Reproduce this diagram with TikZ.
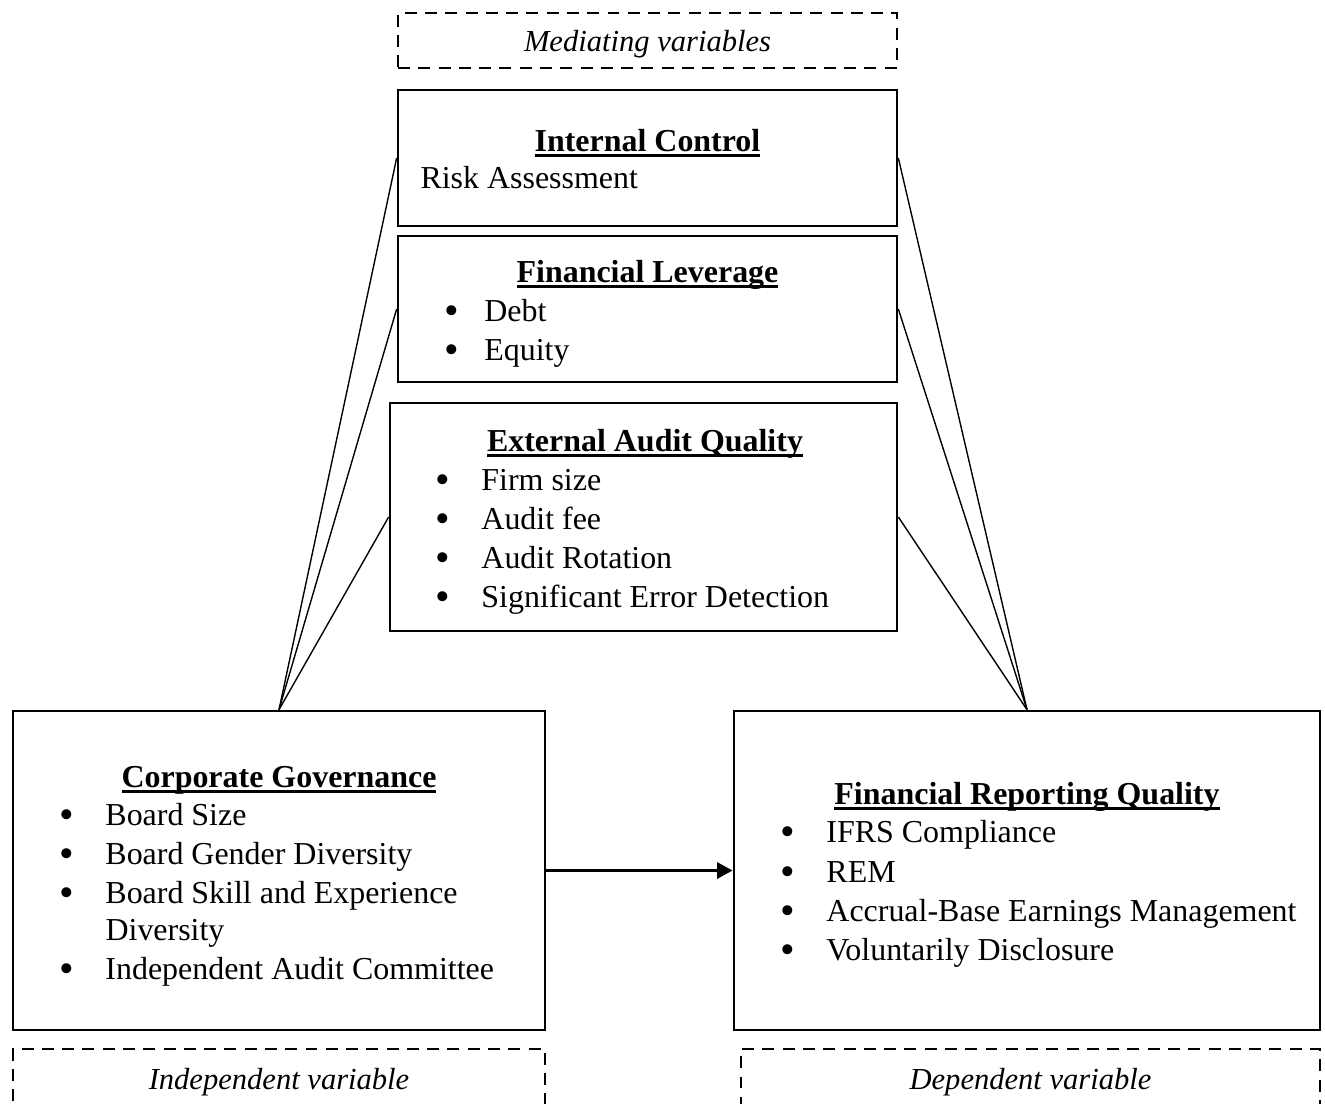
\documentclass[tikz,border=0pt]{standalone}
\usepackage{fontspec}
\setmainfont{Liberation Serif}
\usetikzlibrary{arrows.meta}
\newcommand{\blt}{\makebox[15.8pt][l]{\hspace{-0.6pt}\raisebox{-1.4pt}{\fontsize{15}{15}\selectfont\textbullet}}}
\newcommand{\hd}[1]{\setbox0\hbox{\textbf{#1}}\rlap{\rule[-2pt]{\wd0}{0.9pt}}\box0}

\begin{document}
\begin{tikzpicture}[x=0.36pt,y=-0.36pt,
	box/.style={draw,line width=1pt,inner sep=0pt},
	dbox/.style={draw,line width=0.9pt,dash pattern=on 4.3pt off 3pt,inner sep=0pt},
	ttl/.style={anchor=base,inner sep=0pt,font=\fontsize{11.5}{14}\selectfont},
	itm/.style={anchor=base west,inner sep=0pt,font=\fontsize{11.5}{14}\selectfont},
	lbl/.style={anchor=base,inner sep=0pt,font=\fontsize{11}{14}\selectfont\itshape},
	link/.style={line width=0.5pt}]
		\useasboundingbox (0,0) rectangle (1325,1103);
		% boxes
		\node[dbox,minimum width=179.6pt,minimum height=19.8pt] (med) at (647.5,40.5) {};
		\node[box,minimum width=179.6pt,minimum height=49pt] (ic) at (647.5,158) {};
		\node[box,minimum width=179.6pt,minimum height=52.6pt] (fl) at (647.5,309) {};
		\node[box,minimum width=182.5pt,minimum height=82.1pt] (eaq) at (643.5,517) {};
		\node[box,minimum width=191.5pt,minimum height=114.8pt] (cg) at (279,870.5) {};
		\node[box,minimum width=211pt,minimum height=114.8pt] (frq) at (1027,870.5) {};
		\node[dbox,minimum width=191.5pt,minimum height=25.9pt] (indep) at (279,1085) {};
		\node[dbox,minimum width=208.4pt,minimum height=25.9pt] (dep) at (1030.5,1085) {};
		%
		\node[lbl] (medtxt) at (647.5,51) {Mediating variables};
		\node[lbl] (indeptxt) at (279,1089) {Independent variable};
		\node[lbl] (deptxt) at (1030.5,1089) {Dependent variable};
		%
		\node[ttl] (ictitle) at (647.5,151) {\hd{Internal Control}};
		\node[itm] (ic1) at (420,188) {Risk Assessment};
		%
		\node[ttl] (fltitle) at (647.5,282) {\hd{Financial Leverage}};
		\node[itm] (fl1) at (446,321) {\blt\hspace{-2.2pt}Debt};
		\node[itm] (fl2) at (446,360) {\blt\hspace{-2.2pt}Equity};
		%
		\node[ttl] (eaqtitle) at (645,451) {\hd{External Audit Quality}};
		\node[itm] (eaq1) at (437,490) {\blt Firm size};
		\node[itm] (eaq2) at (437,529) {\blt Audit fee};
		\node[itm] (eaq3) at (437,568) {\blt Audit Rotation};
		\node[itm] (eaq4) at (437,607) {\blt Significant Error Detection};
		%
		\node[ttl] (cgtitle) at (279,787) {\hd{Corporate Governance}};
		\node[itm] (cg1) at (61,825) {\blt Board Size};
		\node[itm] (cg2) at (61,864) {\blt Board Gender Diversity};
		\node[itm] (cg3) at (61,903) {\blt Board Skill and Experience};
		\node[itm] (cg3b) at (105,940) {Diversity};
		\node[itm] (cg4) at (61,979) {\blt Independent Audit Committee};
		%
		\node[ttl] (frqtitle) at (1027,804) {\hd{Financial Reporting Quality}};
		\node[itm] (frq1) at (782,842) {\blt IFRS Compliance};
		\node[itm] (frq2) at (782,882) {\blt REM};
		\node[itm] (frq3) at (782,921) {\blt Accrual-Base Earnings Management};
		\node[itm] (frq4) at (782,960) {\blt Voluntarily Disclosure};
		%
		\draw[link] (cg.north) -- (ic.west);
		\draw[link] (cg.north) -- (fl.west);
		\draw[link] (cg.north) -- (eaq.west);
		\draw[link] (frq.north) -- (ic.east);
		\draw[link] (frq.north) -- (fl.east);
		\draw[link] (frq.north) -- (eaq.east);
		\draw[line width=1.1pt,-{Triangle[length=5.6pt,width=5.8pt]}] (cg.east) -- (frq.west);
	\end{tikzpicture}
\end{document}
